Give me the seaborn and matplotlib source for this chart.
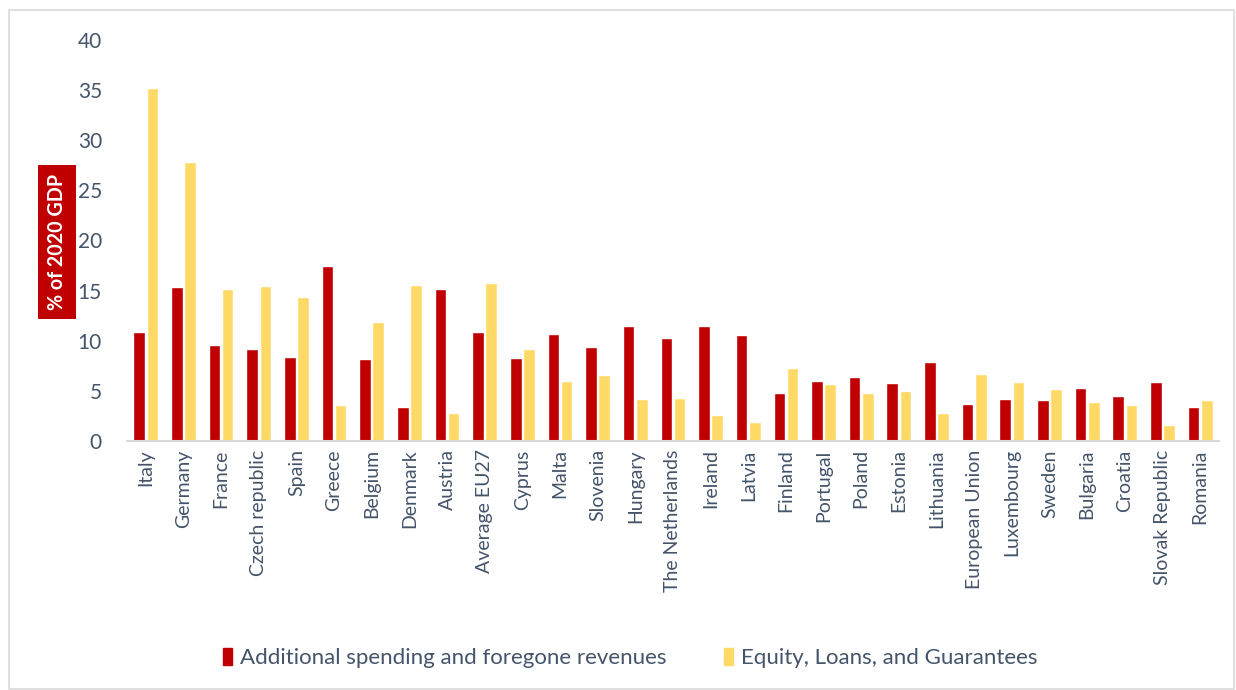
import matplotlib
matplotlib.use("Agg")
import matplotlib.pyplot as plt
import matplotlib.patches as mpatches
import seaborn as sns
import pandas as pd

countries = ["Italy", "Germany", "France", "Czech republic", "Spain", "Greece", "Belgium",
             "Denmark", "Austria", "Average EU27", "Cyprus", "Malta", "Slovenia", "Hungary",
             "The Netherlands", "Ireland", "Latvia", "Finland", "Portugal", "Poland", "Estonia",
             "Lithuania", "European Union", "Luxembourg", "Sweden", "Bulgaria", "Croatia",
             "Slovak Republic", "Romania"]
additional_spending = [10.84, 15.33, 9.58, 9.18, 8.38, 17.49, 8.15, 3.36, 15.16, 10.84, 8.25,
                       10.67, 9.38, 11.47, 10.27, 11.50, 10.54, 4.76, 6.02, 6.41, 5.75, 7.85,
                       3.72, 4.16, 4.09, 5.26, 4.52, 5.85, 3.36]
equity_loans = [35.2, 27.8, 15.16, 15.46, 14.36, 3.59, 11.84, 15.6, 2.76, 15.76, 9.21, 5.95,
                6.58, 4.16, 4.32, 2.63, 1.93, 7.31, 5.69, 4.79, 5.02, 2.76, 6.68, 5.85, 5.19,
                3.86, 3.56, 1.63, 4.12]
series_names = ["Additional spending and foregone revenues", "Equity, Loans, and Guarantees"]
y_ticks = [0, 5, 10, 15, 20, 25, 30, 35, 40]

n = len(countries)
df = pd.DataFrame({
    "country": countries * 2,
    "value": additional_spending + equity_loans,
    "series": [series_names[0]] * n + [series_names[1]] * n,
})

sns.set_theme(style="white")
plt.rcParams["font.family"] = ["Lato", "DejaVu Sans"]
text_color = "#44546A"
colors = {series_names[0]: "#C00000", series_names[1]: "#FFD966"}

fig = plt.figure(figsize=(12.36, 6.9), dpi=100)
ax = fig.add_axes([0.1027, 0.3609, 0.8835, 0.5811])
sns.barplot(data=df, x="country", y="value", hue="series", palette=colors,
            width=0.7, gap=0.12, ax=ax, legend=False, saturation=1)

ax.set_ylim(0, 40)
ax.set_xlim(-0.5, n - 0.5)
ax.set_yticks(y_ticks)
ax.set_yticklabels([str(t) for t in y_ticks], fontsize=15, color=text_color)
ax.tick_params(axis="y", length=0, pad=18)
ax.tick_params(axis="x", length=0, pad=6)
for lbl in ax.get_xticklabels():
    lbl.set_rotation(90)
    lbl.set_fontsize(14)
    lbl.set_color(text_color)
ax.set_xlabel("")
ax.set_ylabel("")
for s in ["top", "right", "left"]:
    ax.spines[s].set_visible(False)
ax.spines["bottom"].set_color("#D9D9D9")
ax.spines["bottom"].set_linewidth(1.5)

fig.text(0.0462, 0.649, "% of 2020 GDP", rotation=90, ha="center", va="center",
         fontsize=14.2, fontweight="bold", color="white",
         bbox=dict(boxstyle="square,pad=0.45", facecolor="#C00000", edgecolor="none"))

handles = [mpatches.Patch(color=colors[s], label=s) for s in series_names]
leg = fig.legend(handles=handles, loc="center", bbox_to_anchor=(0.51, 0.046), ncol=2,
                 frameon=False, fontsize=16, handlelength=0.4, handleheight=0.75,
                 handletextpad=0.35, columnspacing=2.6)
for t in leg.get_texts():
    t.set_color(text_color)

fig.patches.append(mpatches.Rectangle((0.007, 0.002), 0.991, 0.983, transform=fig.transFigure,
                                      fill=False, edgecolor="#D9D9D9", linewidth=1.2))

fig.savefig("out.png", dpi=100, facecolor="white")
